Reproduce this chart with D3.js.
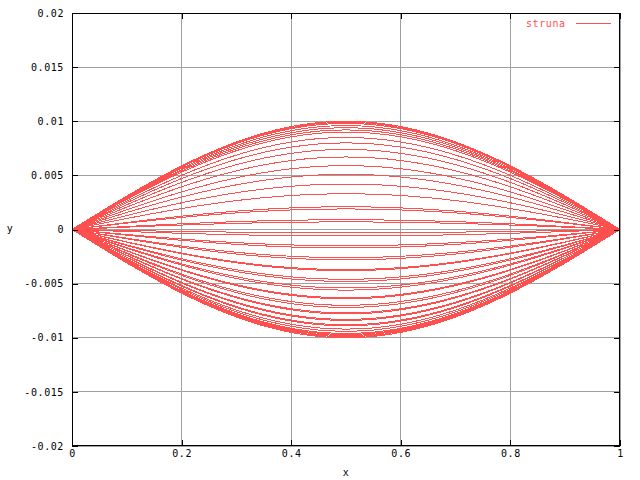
<!DOCTYPE html>
<html>
<head>
<meta charset="utf-8">
<script src="https://cdn.jsdelivr.net/npm/d3@7"></script>
<style>
  body { margin: 0; background: #fff; }
  svg { display: block; }
  text { font-family: "DejaVu Sans Mono", monospace; font-size: 10px; letter-spacing: 0.6px; fill: #000; }
</style>
</head>
<body>
<svg id="chart" width="640" height="480"></svg>
<script>
// ---- data ----
const xTicks = [0, 0.2, 0.4, 0.6, 0.8, 1];
const xTickLabels = ["0", "0.2", "0.4", "0.6", "0.8", "1"];
const yTicks = [-0.02, -0.015, -0.01, -0.005, 0, 0.005, 0.01, 0.015, 0.02];
const yTickLabels = ["-0.02", "-0.015", "-0.01", "-0.005", "0", "0.005", "0.01", "0.015", "0.02"];

// normalised profile of the string along x (read from the outer envelope)
const profileX = [0, 0.05, 0.1, 0.15, 0.2, 0.25, 0.3, 0.35, 0.4, 0.45, 0.5,
                  0.55, 0.6, 0.65, 0.7, 0.75, 0.8, 0.85, 0.9, 0.95, 1];
const profileY = [0, 0.156, 0.309, 0.454, 0.588, 0.707, 0.809, 0.891, 0.951, 0.988, 1,
                  0.988, 0.951, 0.891, 0.809, 0.707, 0.588, 0.454, 0.309, 0.156, 0];

// mid-point displacement (x = 0.5) of each plotted curve "struna"
const amplitudes = [
  0.0100, 0.0099, 0.0098, 0.0096, 0.0094, 0.0092, 0.0090, 0.0085, 0.0080, 0.0074,
  0.0067, 0.0059, 0.0051, 0.0042, 0.0033, 0.0021, 0.0019, 0.0009, 0.0007,
  -0.0003, -0.0006,
  -0.0015, -0.0017, -0.0026, -0.0028, -0.0037, -0.0038, -0.0046, -0.0048,
  -0.0054, -0.0056, -0.0063, -0.0064, -0.0070, -0.0072, -0.0077, -0.0078,
  -0.0083, -0.0084, -0.0088, -0.0089, -0.0092, -0.0094, -0.0096, -0.0097,
  -0.0098, -0.0099, -0.0100
];
const seriesName = "struna";

// ---- layout ----
const L = 72, R = 620, T = 13, B = 446;
const svg = d3.select("#chart");
const x = d3.scaleLinear().domain([0, 1]).range([L, R]);
const y = d3.scaleLinear().domain([-0.02, 0.02]).range([B, T]);

// grid
const grid = svg.append("g").attr("shape-rendering", "crispEdges");
grid.selectAll(".gx").data(xTicks).enter().append("line")
  .attr("x1", d => x(d)).attr("x2", d => x(d)).attr("y1", T).attr("y2", B)
  .attr("stroke", "#a0a0a0");
grid.selectAll(".gy").data(yTicks).enter().append("line")
  .attr("x1", L).attr("x2", R).attr("y1", d => y(d)).attr("y2", d => y(d))
  .attr("stroke", "#a0a0a0");

// curves
const line = d3.line().x(d => x(d[0])).y(d => y(d[1])).curve(d3.curveNatural);
svg.append("g").attr("shape-rendering", "crispEdges")
  .selectAll("path").data(amplitudes).enter().append("path")
  .attr("d", a => line(profileX.map((px, i) => [px, a * profileY[i]])))
  .attr("fill", "none").attr("stroke", "#ff5050").attr("stroke-width", 1);

// axes (ticks inward, mirrored)
function styleAxis(g) {
  g.select(".domain").remove();
  g.selectAll(".tick line").attr("stroke", "#000");
  g.attr("shape-rendering", "crispEdges");
}
svg.append("g").attr("transform", `translate(0,${B})`)
  .call(d3.axisBottom(x).tickValues(xTicks).tickFormat((d, i) => xTickLabels[i]).tickSizeInner(-6).tickSizeOuter(0).tickPadding(4))
  .call(styleAxis);
svg.append("g").attr("transform", `translate(0,${T})`)
  .call(d3.axisTop(x).tickValues(xTicks).tickFormat("").tickSizeInner(-6).tickSizeOuter(0))
  .call(styleAxis);
svg.append("g").attr("transform", `translate(${L},0)`)
  .call(d3.axisLeft(y).tickValues(yTicks).tickFormat((d, i) => yTickLabels[i]).tickSizeInner(-6).tickSizeOuter(0).tickPadding(8))
  .call(styleAxis);
svg.append("g").attr("transform", `translate(${R},0)`)
  .call(d3.axisRight(y).tickValues(yTicks).tickFormat("").tickSizeInner(-6).tickSizeOuter(0))
  .call(styleAxis);
svg.selectAll(".tick text").attr("font-family", null).attr("font-size", null).attr("fill", "#000");

// frame
svg.append("rect").attr("x", L + 0.5).attr("y", T + 0.5).attr("width", R - L - 1).attr("height", B - T - 1)
  .attr("fill", "none").attr("stroke", "#000").attr("shape-rendering", "crispEdges");

// axis labels
svg.append("text").attr("x", (L + R) / 2).attr("y", 476).attr("text-anchor", "middle").text("x");
svg.append("text").attr("x", 10).attr("y", 232).attr("text-anchor", "middle").text("y");

// legend
svg.append("text").attr("x", 526).attr("y", 27).style("fill", "#ff5050").text(seriesName);
svg.append("line").attr("x1", 576).attr("x2", 611).attr("y1", 23.5).attr("y2", 23.5)
  .attr("stroke", "#ff5050").attr("shape-rendering", "crispEdges");
</script>
</body>
</html>
